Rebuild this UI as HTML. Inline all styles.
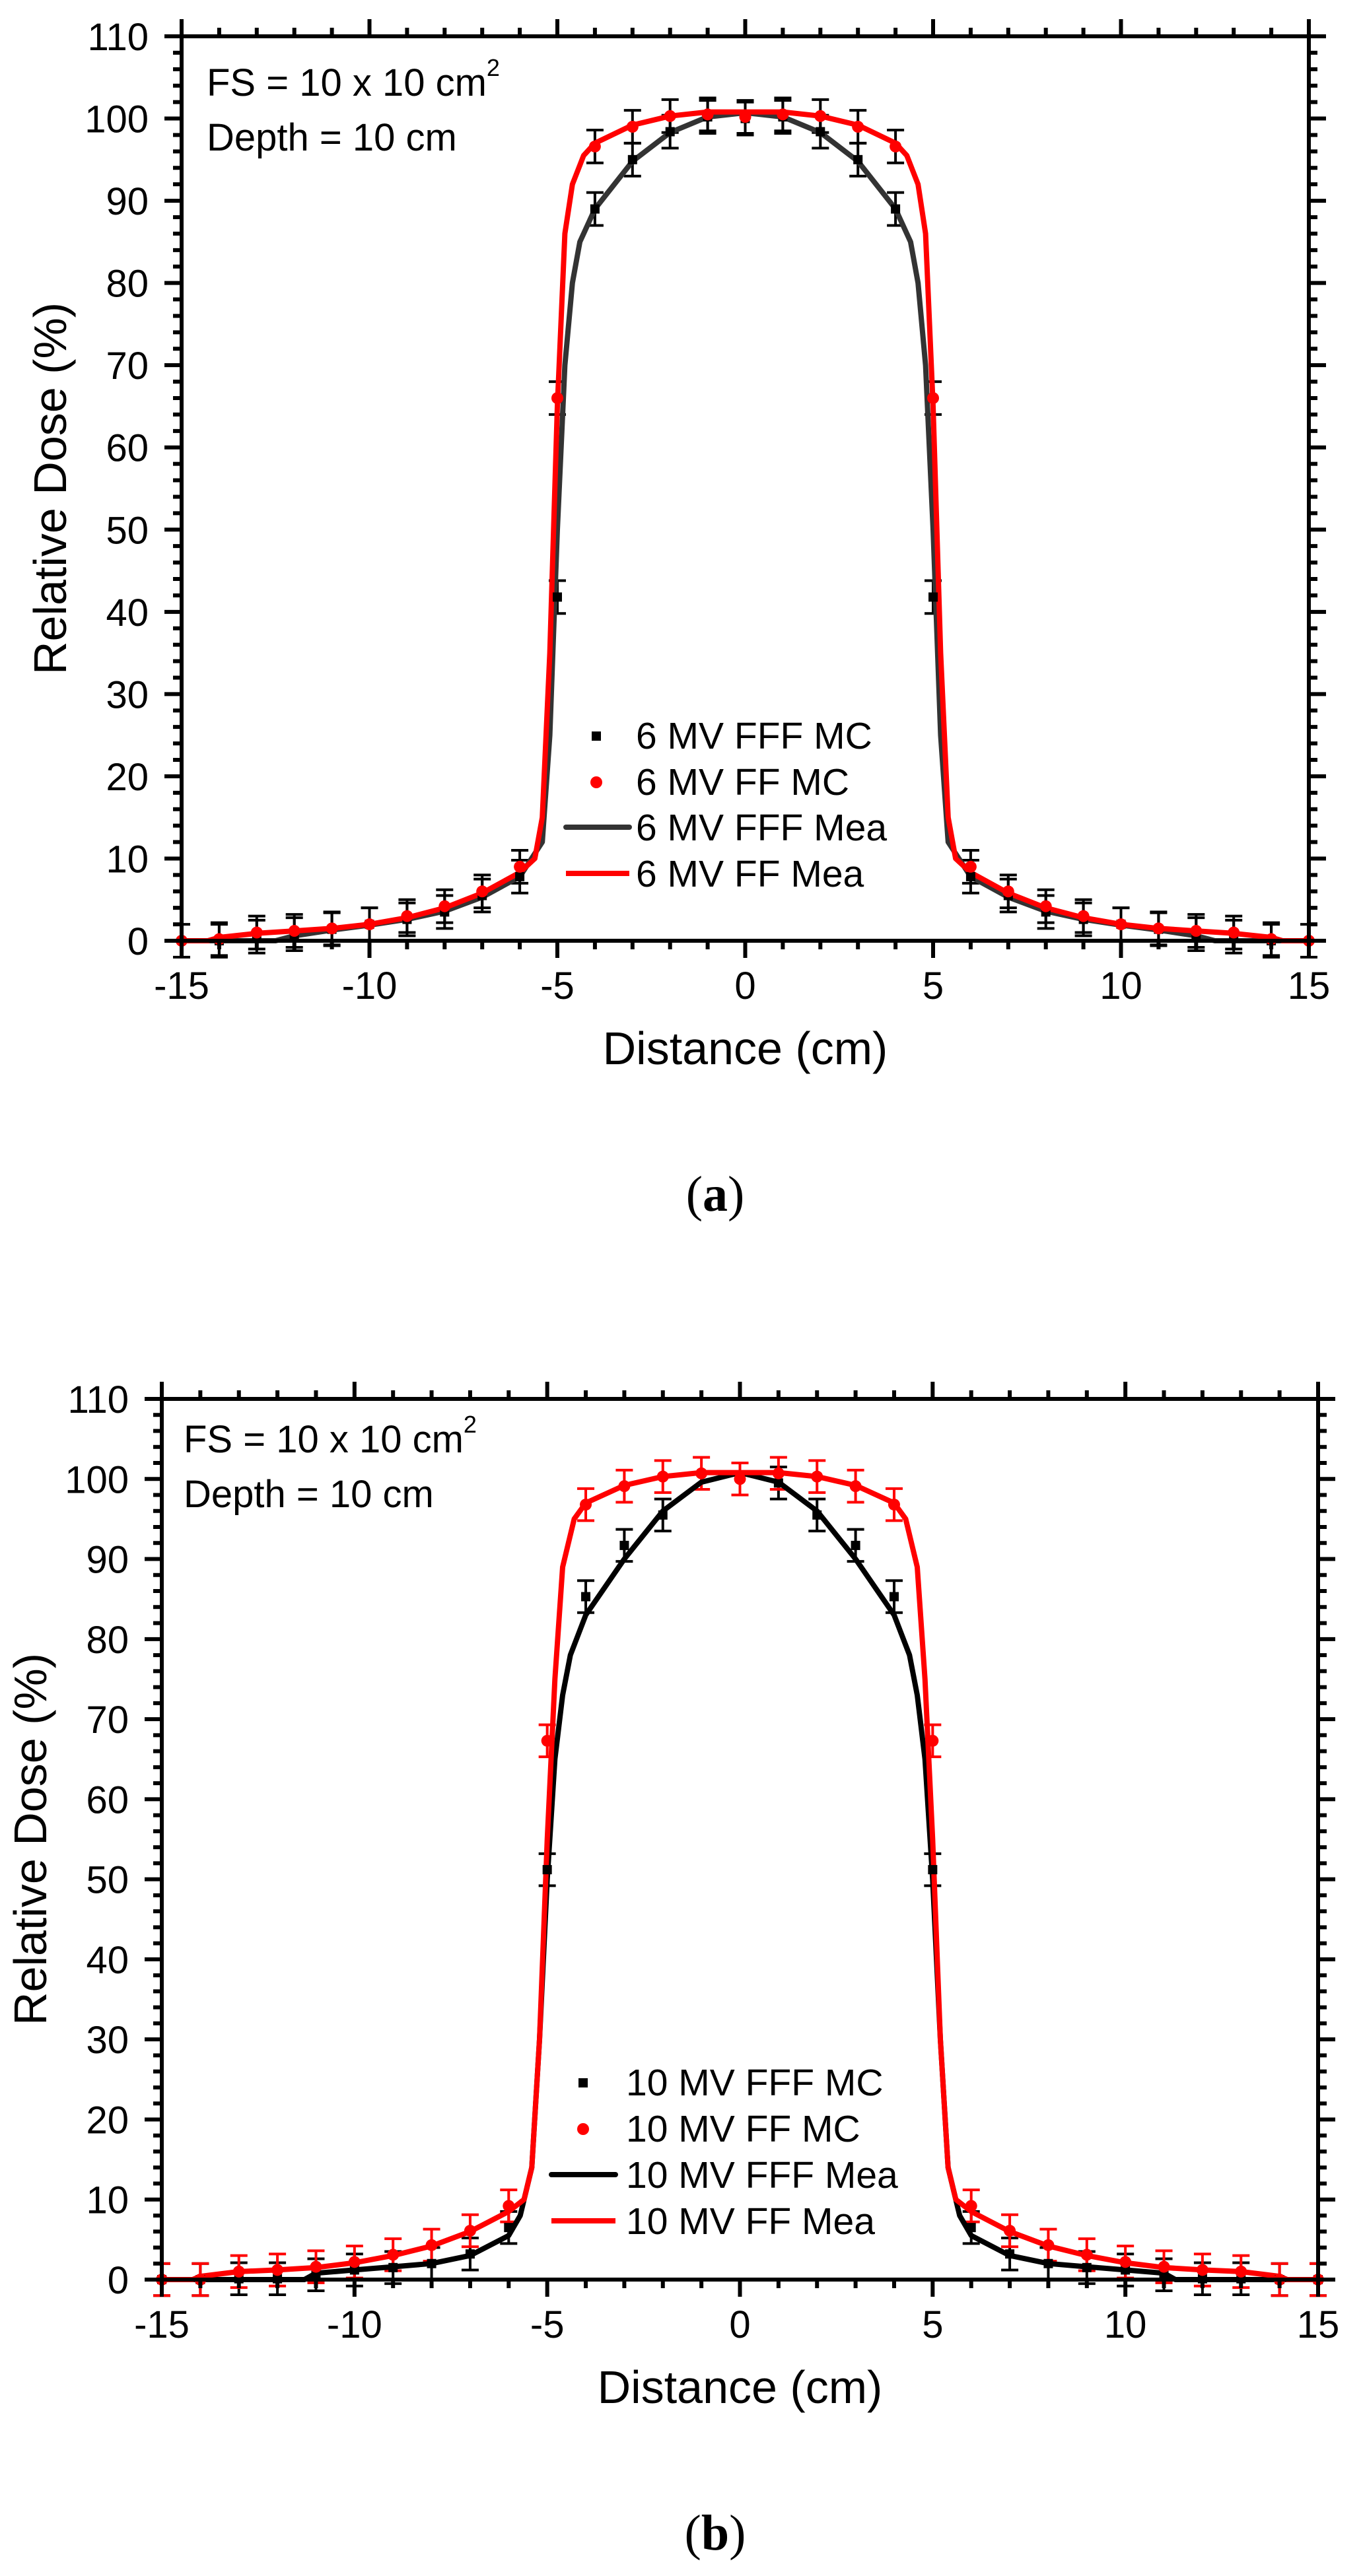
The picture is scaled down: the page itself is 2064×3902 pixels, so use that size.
<!DOCTYPE html>
<html><head><meta charset="utf-8">
<style>
html,body{margin:0;padding:0;background:#fff;}
svg{display:block;}
text{font-family:"Liberation Sans",Arial,sans-serif;fill:#000;}
</style></head>
<body>
<svg id="s" xmlns="http://www.w3.org/2000/svg" width="2064" height="3902" viewBox="0 0 2064 3902"></svg>
<script>
const S=document.getElementById('s');
let out='';
function sym(arr,neg){ // arr of [x,y] for x>=0 ; mirror
  const r=[];
  for(let i=arr.length-1;i>0;i--) r.push([-arr[i][0],arr[i][1]]);
  return r.concat(arr);
}
function plot(P){
  const X=x=>P.x0+(x+15)*(P.x1-P.x0)/30;
  const Y=y=>P.y0-(y)*(P.y0-P.y1)/110;
  let g='';
  // error bars and markers drawn first? draw curves then points
  const path=(pts,col,w)=>{let d='';pts.forEach((p,i)=>{d+=(i?'L':'M')+X(p[0]).toFixed(1)+' '+Y(p[1]).toFixed(1);});return `<path d="${d}" fill="none" stroke="${col}" stroke-width="${w}" stroke-linejoin="round"/>`;};
  // error bars
  const eb=(pts,col,e)=>{let s='';pts.forEach(p=>{const x=X(p[0]),a=Y(p[1]+e),b=Y(p[1]-e);s+=`<path d="M${x} ${a}V${b}M${x-13} ${a}H${x+13}M${x-13} ${b}H${x+13}" stroke="${col}" stroke-width="4" fill="none"/>`;});return s;};
  g+=eb(P.sq,'#000',2);
  g+=eb(P.ci,P.ciErr,2);
  g+=path(P.fff,P.fffCol,8);
  g+=path(P.ff,'#ff0000',8);
  P.sq.forEach(p=>{g+=`<rect x="${X(p[0])-7}" y="${Y(p[1])-7}" width="14" height="14" fill="#000"/>`;});
  P.ci.forEach(p=>{g+=`<circle cx="${X(p[0])}" cy="${Y(p[1])}" r="9" fill="#ff0000"/>`;});
  // axes
  g+=`<rect x="${P.x0}" y="${P.y1}" width="${P.x1-P.x0}" height="${P.y0-P.y1}" fill="none" stroke="#000" stroke-width="6"/>`;
  for(let v=-15;v<=15;v++){const x=X(v),M=v%5==0,L=M?26:13;
    g+=`<path d="M${x} ${P.y0}v${L}M${x} ${P.y1}v${-L}" stroke="#000" stroke-width="6"/>`;
    if(M) g+=`<text x="${x}" y="${P.y0+88}" font-size="58" text-anchor="middle">${v}</text>`;}
  for(let v=0;v<=110;v+=2){const y=Y(v),M=v%10==0,L=M?26:13;
    g+=`<path d="M${P.x0} ${y}h${-L}M${P.x1} ${y}h${L}" stroke="#000" stroke-width="6"/>`;
    if(M) g+=`<text x="${P.x0-50}" y="${y+21}" font-size="58" text-anchor="end">${v}</text>`;}
  const cx=(P.x0+P.x1)/2;
  g+=`<text x="${cx}" y="${P.y0+187}" font-size="70" text-anchor="middle">Distance (cm)</text>`;
  const cy=(P.y0+P.y1)/2;
  g+=`<text transform="translate(${P.ytx},${cy}) rotate(-90)" font-size="70" text-anchor="middle">Relative Dose (%)</text>`;
  g+=`<text x="${P.fsx}" y="${P.fsy}" font-size="58">FS = 10 x 10 cm<tspan font-size="36" dy="-30">2</tspan></text>`;
  g+=`<text x="${P.fsx}" y="${P.fsy+83}" font-size="58">Depth = 10 cm</text>`;
  // legend
  const Lg=P.lg;
  g+=`<rect x="${Lg.sx-7}" y="${Lg.b[0]-26}" width="14" height="14" fill="#000"/>`;
  g+=`<circle cx="${Lg.sx}" cy="${Lg.b[1]-19}" r="9" fill="#ff0000"/>`;
  g+=`<path d="M${Lg.l0} ${Lg.b[2]-20}H${Lg.l1}" stroke="${P.fffCol}" stroke-width="8" stroke-linecap="round"/>`;
  g+=`<path d="M${Lg.l0} ${Lg.b[3]-20}H${Lg.l1}" stroke="#ff0000" stroke-width="8"/>`;
  Lg.t.forEach((t,i)=>{g+=`<text x="${Lg.tx}" y="${Lg.b[i]}" font-size="57">${t}</text>`;});
  g+=`<text x="1083" y="${P.y0+409}" font-family="Liberation Serif,serif" font-size="76" text-anchor="middle" style="font-family:'Liberation Serif',serif">(<tspan font-weight="bold">${P.lab}</tspan>)</text>`;
  return g;
}
// Plot a data
const ffA=sym([[0,100.8],[1,100.8],[2,100.3],[3,99.2],[4,97],[4.3,95.5],[4.6,92],[4.8,86],[5,65],[5.2,35],[5.4,15],[5.6,10],[6,8.3],[7,5.8],[8,4],[9,2.8],[10,2],[11,1.5],[12,1.2],[13,0.9],[14,0.4],[14.3,0],[15,0]]);
const fffA=sym([[0,100.7],[1,100.2],[2,98.3],[3,94.8],[4,89],[4.4,85],[4.6,80],[4.8,70],[5,50],[5.2,25],[5.4,12],[6,7.8],[7,5.3],[8,3.6],[9,2.6],[10,1.9],[11,1.3],[12,0.6],[12.5,0],[15,0]]);
const sqA=sym([[0,100],[1,100.2],[2,98.4],[3,95],[4,89],[5,41.8],[6,7.8],[7,5.5],[8,3.5],[9,2.6],[10,2],[11,1.4],[12,0.8],[13,0.5],[14,0]]);
const ciA=sym([[0,100.2],[1,100.5],[2,100.3],[3,99],[4,96.6],[5,66],[6,9],[7,6],[8,4.2],[9,3],[10,2],[11,1.5],[12,1.2],[13,1],[14,0.2],[15,0]]);
out+=plot({x0:275,x1:1982,y0:1425,y1:55,ff:ffA,fff:fffA,sq:sqA,ci:ciA,ciErr:'#000',fffCol:'#333',ytx:100,fsx:313,fsy:145,lab:'a',
 lg:{sx:903,l0:857,l1:953,tx:963,b:[1134,1204,1273,1343],t:['6 MV FFF MC','6 MV FF MC','6 MV FFF Mea','6 MV FF Mea']}});
// Plot b data
const ffB=sym([[0,100.8],[1,100.8],[2,100.3],[3,99.2],[4,97],[4.3,95],[4.6,89],[4.8,75],[5,55],[5.2,30],[5.4,14],[5.6,10],[6,8.5],[7,6],[8,4.2],[9,3],[10,2.1],[11,1.5],[12,1.2],[13,1],[14,0.4],[14.2,0],[15,0]]);
const fffB=sym([[0,100.8],[1,99.6],[2,96],[3,90],[4,83],[4.4,78],[4.6,73],[4.8,65],[5,50],[5.2,30],[5.4,14],[5.7,8],[6,5.5],[7,3],[8,2],[9,1.6],[10,1.2],[11,0.8],[11.3,0],[15,0]]);
const sqB=sym([[1,99.5],[2,95.5],[3,91.7],[4,85.3],[5,51.2],[6,6.5],[7,3.2],[8,2],[9,1.5],[10,1.2],[11,0.6],[12,0.1],[13,0.1],[14,0],[15,0]]);
const ciB=sym([[0,100],[1,100.7],[2,100.3],[3,99.1],[4,96.8],[5,67.3],[6,9.2],[7,6.1],[8,4.3],[9,3.1],[10,2.2],[11,1.6],[12,1.2],[13,1],[14,0],[15,0]]);
out+=plot({x0:245,x1:1996,y0:3453,y1:2119,ff:ffB,fff:fffB,sq:sqB,ci:ciB,ciErr:'#ff0000',fffCol:'#000',ytx:70,fsx:278,fsy:2200,lab:'b',
 lg:{sx:883,l0:835,l1:932,tx:948,b:[3174,3244,3314,3384],t:['10 MV FFF MC','10 MV FF MC','10 MV FFF Mea','10 MV FF Mea']}});
S.innerHTML=out;
</script>
</body></html>
